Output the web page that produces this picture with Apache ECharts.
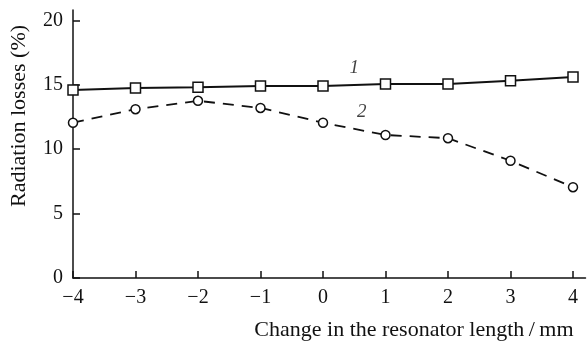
<!DOCTYPE html>
<html>
<head>
<meta charset="utf-8">
<script src="https://cdn.jsdelivr.net/npm/echarts@6/dist/echarts.min.js"></script>
<style>
  html, body { margin: 0; padding: 0; background: #fff; }
  #chart { width: 587px; height: 345px; }
</style>
</head>
<body>
<div id="chart"></div>
<script>
// Resonator length change (mm) and radiation losses (%) for two configurations
const lengthChange = [-4, -3, -2, -1, 0, 1, 2, 3, 4];
const lossesCurve1 = [14.6, 14.75, 14.8, 14.9, 14.9, 15.05, 15.05, 15.3, 15.6];
const lossesCurve2 = [12.05, 13.1, 13.75, 13.2, 12.05, 11.1, 10.85, 9.1, 7.05];
const xTicks = [-4, -3, -2, -1, 0, 1, 2, 3, 4];
const yTicks = [0, 5, 10, 15, 20];
// Curve numbers placed beside the lines: [x, y, text]
const curveTags = [[0.5, 16.3, '1'], [0.62, 12.85, '2']];

const FONT = '"Liberation Serif", "DejaVu Serif", serif';
const INK = '#111';

const chart = echarts.init(document.getElementById('chart'), null, { renderer: 'canvas' });

function pairs(ys) {
  return lengthChange.map((x, i) => [x, ys[i]]);
}

chart.setOption({
  animation: false,
  backgroundColor: '#fff',
  grid: { left: 72, right: 1.5, top: 10, bottom: 67, containLabel: false },
  xAxis: {
    type: 'value',
    min: -4,
    max: 4.2,
    name: 'Change in the resonator length\u2009/\u2009mm',
    nameLocation: 'end',
    nameGap: -12,
    nameTextStyle: {
      fontFamily: FONT, fontSize: 22, color: INK,
      align: 'right', verticalAlign: 'top', padding: [41, 0, 0, 0]
    },
    axisLine: { show: true, onZero: false, lineStyle: { color: INK, width: 1.5 } },
    axisTick: { show: true, inside: true, length: 7, customValues: xTicks, lineStyle: { color: INK, width: 1.5 } },
    axisLabel: {
      customValues: xTicks,
      margin: 10,
      fontFamily: FONT, fontSize: 20, color: INK,
      formatter: v => (v < 0 ? '\u2212' + Math.abs(v) : String(v))
    },
    splitLine: { show: false }
  },
  yAxis: {
    type: 'value',
    min: 0,
    max: 20.8,
    name: 'Radiation losses (%)',
    nameLocation: 'middle',
    nameGap: 43,
    nameTextStyle: {
      fontFamily: FONT, fontSize: 22, color: INK,
      padding: [0, 0, 0, 56]
    },
    axisLine: { show: true, onZero: false, lineStyle: { color: INK, width: 1.5 } },
    axisTick: { show: true, inside: true, length: 7, customValues: yTicks, lineStyle: { color: INK, width: 1.5 } },
    axisLabel: {
      customValues: yTicks,
      margin: 10,
      fontFamily: FONT, fontSize: 20, color: INK
    },
    splitLine: { show: false }
  },
  series: [
    {
      name: '1',
      type: 'line',
      data: pairs(lossesCurve1),
      symbol: 'rect',
      symbolSize: 10,
      itemStyle: { color: '#fff', borderColor: INK, borderWidth: 1.5 },
      lineStyle: { color: INK, width: 2 },
      z: 3
    },
    {
      name: '2',
      type: 'line',
      data: pairs(lossesCurve2),
      symbol: 'circle',
      symbolSize: 9,
      itemStyle: { color: '#fff', borderColor: INK, borderWidth: 1.5 },
      lineStyle: { color: INK, width: 1.8, type: [11, 8] },
      z: 3
    },
    {
      name: 'tags',
      type: 'scatter',
      data: curveTags.map(t => ({ value: [t[0], t[1]], tag: t[2] })),
      symbolSize: 0,
      silent: true,
      label: {
        show: true,
        position: 'inside',
        formatter: p => p.data.tag,
        fontFamily: FONT, fontSize: 19, fontStyle: 'italic', color: INK
      },
      z: 4
    }
  ]
});
</script>
</body>
</html>
